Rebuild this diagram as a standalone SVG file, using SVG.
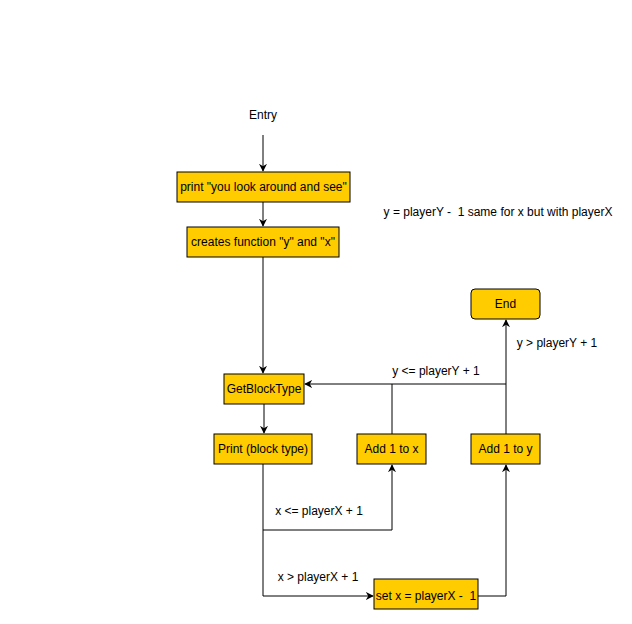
<svg xmlns="http://www.w3.org/2000/svg" width="632" height="624" viewBox="0 0 632 624">
<defs>
<style>
.n{fill:#FFCC00;stroke:#000;stroke-width:1}
.t{font-family:"Liberation Sans",Arial,sans-serif;font-size:12px;fill:#000;text-anchor:middle}
.e{fill:none;stroke:#000;stroke-width:1}
</style>
<marker id="a" viewBox="0 0 10 10" refX="9" refY="5" markerWidth="8" markerHeight="8" markerUnits="userSpaceOnUse" orient="auto">
<path d="M0,0 L10,5 L0,10 L3,5 Z" fill="#000"/>
</marker>
</defs>
<rect width="632" height="624" fill="#fff"/>
<g id="connectors">
<path class="e" d="M263,135 V171" marker-end="url(#a)"/>
<path class="e" d="M263,202 V226" marker-end="url(#a)"/>
<path class="e" d="M263,257 V373" marker-end="url(#a)"/>
<path class="e" d="M264,404 V433" marker-end="url(#a)"/>
<path class="e" d="M506,434 V320" marker-end="url(#a)"/>
<path class="e" d="M506,384 H305" marker-end="url(#a)"/>
<path class="e" d="M392,434 V384"/>
<path class="e" d="M263,464 V530 H392 V465" marker-end="url(#a)"/>
<path class="e" d="M263,530 V596 H373" marker-end="url(#a)"/>
<path class="e" d="M478,596 H506 V465" marker-end="url(#a)"/>
<text class="t" x="436" y="375">y &lt;= playerY + 1</text>
<text class="t" x="557" y="347">y &gt; playerY + 1</text>
<text class="t" x="319" y="515">x &lt;= playerX + 1</text>
<text class="t" x="318" y="581">x &gt; playerX + 1</text>
</g>
<g id="entry"><text class="t" x="263" y="119">Entry</text></g>
<g id="note"><text class="t" x="498" y="216" xml:space="preserve">y = playerY -  1 same for x but with playerX</text></g>
<g id="print1"><rect class="n" x="177" y="172" width="173" height="30"/><text class="t" x="263.5" y="191">print "you look around and see"</text></g>
<g id="createfn"><rect class="n" x="187" y="227" width="152" height="30"/><text class="t" x="263" y="246">creates function "y" and "x"</text></g>
<g id="getblock"><rect class="n" x="224" y="374" width="80" height="30"/><text class="t" x="264" y="393">GetBlockType</text></g>
<g id="printblock"><rect class="n" x="214" y="434" width="98" height="30"/><text class="t" x="263" y="453">Print (block type)</text></g>
<g id="addx"><rect class="n" x="357" y="434" width="69" height="30"/><text class="t" x="391.5" y="453">Add 1 to x</text></g>
<g id="addy"><rect class="n" x="471" y="434" width="69" height="30"/><text class="t" x="505.5" y="453">Add 1 to y</text></g>
<g id="end"><rect class="n" x="471" y="289" width="69" height="30" rx="4"/><text class="t" x="505.5" y="308">End</text></g>
<g id="setx"><rect class="n" x="374" y="579" width="104" height="30"/><text class="t" x="426" y="600" xml:space="preserve">set x = playerX -  1</text></g>
</svg>
